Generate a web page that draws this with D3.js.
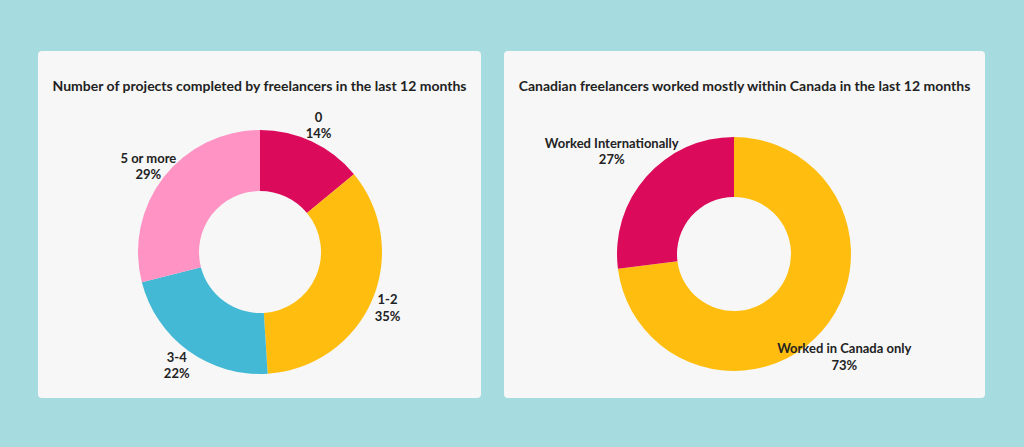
<!DOCTYPE html>
<html>
<head>
<meta charset="utf-8">
<script src="https://cdn.jsdelivr.net/npm/d3@7"></script>
<style>
  body { margin:0; background:#a6dcdf; }
  svg { display:block; font-family: Lato, "Noto Sans", sans-serif; }
  .title { font-size:14px; font-weight:700; fill:#222; }
  .lbl { font-size:13px; font-weight:700; fill:#222; }
</style>
</head>
<body>
<div id="chart"></div>
<script>
// chart 1
var projTitle = "Number of projects completed by freelancers in the last 12 months";
var projCats = ["0", "1-2", "3-4", "5 or more"];
var projVals = [14, 35, 22, 29];
var projColors = ["#dc0a5a", "#ffbe0f", "#43b9d6", "#ff93c3"];

// chart 2
var whereTitle = "Canadian freelancers worked mostly within Canada in the last 12 months";
var whereCats = ["Worked in Canada only", "Worked Internationally"];
var whereVals = [73, 27];
var whereColors = ["#ffbe0f", "#dc0a5a"];

var W = 1024, H = 447;
var svg = d3.select("#chart").append("svg").attr("width", W).attr("height", H);

function donut(cfg){
    var g = svg.append("g");
    g.append("rect")
        .attr("x", cfg.x).attr("y", cfg.y)
        .attr("width", cfg.w).attr("height", cfg.h)
        .attr("rx", 4)
        .attr("fill", "#f7f7f7");

    g.append("text")
        .attr("class", "title")
        .attr("x", cfg.x + cfg.w/2)
        .attr("y", cfg.y + 40)
        .style("text-anchor", "middle")
        .text(cfg.title);

    var data = cfg.cats.map(function(c, i){ return {cat:c, val:cfg.vals[i], col:cfg.colors[i]}; });
    var pie = d3.pie().sort(null).value(function(d){ return d.val; });
    var arc = d3.arc().innerRadius(cfg.r0).outerRadius(cfg.r1);
    var arcs = pie(data);

    var c = g.append("g").attr("transform", "translate(" + cfg.cx + "," + cfg.cy + ")");
    c.selectAll("path")
        .data(arcs)
        .enter()
        .append("path")
        .attr("d", arc)
        .attr("fill", function(d){ return d.data.col; });

    // labels sit outside the ring at the slice's middle angle
    var lab = c.selectAll(".lbl")
        .data(arcs)
        .enter()
        .append("text")
        .attr("class", "lbl")
        .style("text-anchor", "middle")
        .attr("transform", function(d){
            var a = (d.startAngle + d.endAngle)/2;
            return "translate(" + (Math.sin(a)*cfg.rl + cfg.ldx) + "," + (-Math.cos(a)*cfg.rl) + ")";
        });
    lab.append("tspan").attr("x", 0).attr("dy", "-0.25em").text(function(d){ return d.data.cat; });
    lab.append("tspan").attr("x", 0).attr("dy", "1.25em").text(function(d){ return d.data.val + "%"; });
}

donut({x:38, y:51, w:443, h:347, cx:260, cy:252, r0:61, r1:122, rl:140, ldx:-1,
       title:projTitle, cats:projCats, vals:projVals, colors:projColors});
donut({x:504, y:51, w:481, h:347, cx:734, cy:254, r0:57, r1:117, rl:155, ldx:-6,
       title:whereTitle, cats:whereCats, vals:whereVals, colors:whereColors});
</script>
</body>
</html>
